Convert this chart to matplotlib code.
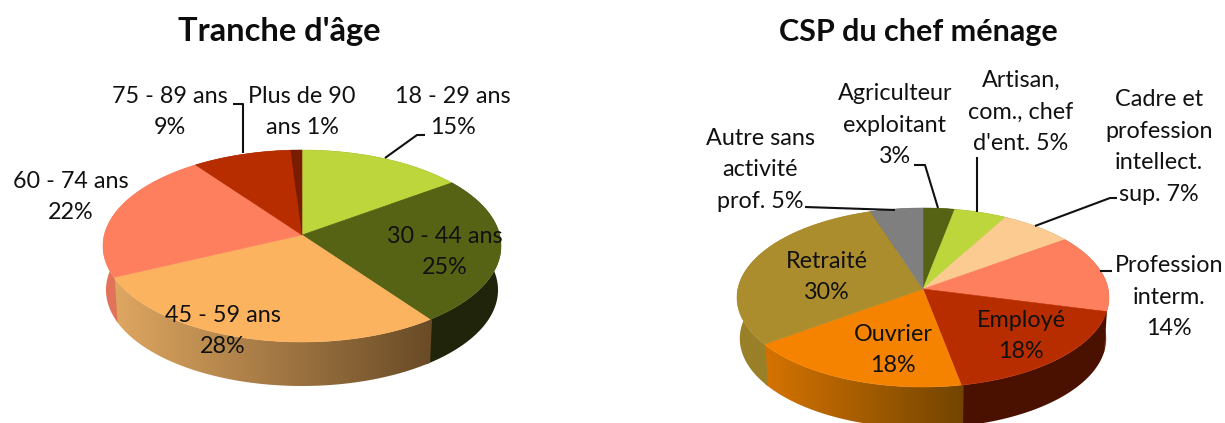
import numpy as np
import matplotlib
matplotlib.use("Agg")
import matplotlib.pyplot as plt
from matplotlib.patches import Polygon
from matplotlib.colors import to_rgb

W, H = 1225, 423

# ---- data ----
age_labels = ["18 - 29 ans\n15%", "30 - 44 ans\n25%", "45 - 59 ans\n28%",
              "60 - 74 ans\n22%", "75 - 89 ans\n9%", "Plus de 90\nans 1%"]
age_values = [15, 25, 28, 22, 9, 1]

csp_labels = ["Agriculteur\nexploitant\n3%", "Artisan,\ncom., chef\nd'ent. 5%",
              "Cadre et\nprofession\nintellect.\nsup. 7%", "Profession\ninterm.\n14%",
              "Employé\n18%", "Ouvrier\n18%", "Retraité\n30%",
              "Autre sans\nactivité\nprof. 5%"]
csp_values = [3, 5, 7, 14, 18, 18, 30, 5]

# ---- style ----
age_colors = ["#bcd63c", "#566214", "#fbb35f", "#fe7f5e", "#b82d00", "#7a1c00"]
csp_colors = ["#566214", "#bcd63c", "#fbcb92", "#fe7f5e", "#b82d00", "#f58300", "#ac8d2e", "#7f7f7f"]
# side wall colours (left end, right end) for each slice
age_sides = [("#5f6c1e", "#5f6c1e"), ("#20240a", "#20240a"), ("#e0a862", "#684a26"),
             ("#e2735a", "#e2735a"), ("#6a1a00", "#6a1a00"), ("#3a1000", "#3a1000")]
csp_sides = [("#2a3008", "#2a3008"), ("#5f6c1e", "#5f6c1e"), ("#7a6040", "#7a6040"),
             ("#7a3a2a", "#7a3a2a"), ("#4a1000", "#4a1000"), ("#d87400", "#704400"),
             ("#9a8028", "#9a8028"), ("#404040", "#404040")]

FONT = "Lato"


def project(theta, cx, cy, rx, up, down):
    """Map clockwise-from-top angle to the tilted disc in pixel space."""
    k = (down - up) / (down + up)
    a = up * (1 + k)
    x, y = np.sin(theta), np.cos(theta)
    d = 1 + k * y
    return cx + rx * x / d, cy - a * y / d


def pie3d(ax, values, colors, sides, cx, cy, rx, up, down, depth):
    fractions = np.asarray(values, float) / np.sum(values)
    edges = np.concatenate([[0], np.cumsum(fractions)]) * 2 * np.pi
    rx = rx * np.sqrt(1 - ((down - up) / (down + up)) ** 2)
    # side walls: a horizontal gradient clipped to the wall outline
    for a0, a1, (cl, cr) in zip(edges[:-1], edges[1:], sides):
        th = np.linspace(a0 - 0.012, a1 + 0.012, 120)
        xs, ys = project(th, cx, cy, rx, up, down)
        xb = cx + (xs - cx) * 0.985
        outline = np.c_[np.r_[xs, xb[::-1]], np.r_[ys, ys[::-1] + depth]]
        patch = Polygon(outline, closed=True, facecolor="none", edgecolor="none")
        ax.add_patch(patch)
        t = np.linspace(0, 1, 256)[None, :, None]
        grad = np.array(to_rgb(cl))[None, None, :] * (1 - t) + np.array(to_rgb(cr))[None, None, :] * t
        im = ax.imshow(grad, extent=(xs.min() - 3, xs.max() + 3, ys.max() + depth + 3, ys.min() - 3),
                       aspect="auto", zorder=2, interpolation="bilinear")
        im.set_clip_path(patch)
    # top
    for a0, a1, c in zip(edges[:-1], edges[1:], colors):
        th = np.linspace(a0, a1, 120)
        xs, ys = project(th, cx, cy, rx, up, down)
        ax.fill(np.r_[cx, xs], np.r_[cy, ys], facecolor=c, edgecolor=c, linewidth=0.4, zorder=3)


fig = plt.figure(figsize=(W / 100, H / 100), dpi=100)
ax = fig.add_axes([0, 0, 1, 1])

pie3d(ax, age_values, age_colors, age_sides, 302, 235, 199, 85, 107, 44)
pie3d(ax, csp_values, csp_colors, csp_sides, 923, 289, 186, 81, 98, 41)

ax.set_xlim(0, W)
ax.set_ylim(H, 0)
ax.axis("off")

# titles
ax.text(279, 32, "Tranche d'âge", ha="center", va="center", fontsize=23.5, fontweight="bold",
        family=FONT, color="#0d0d0d", zorder=6)
ax.text(918, 32, "CSP du chef ménage", ha="center", va="center", fontsize=22, fontweight="bold",
        family=FONT, color="#0d0d0d", zorder=6)

# label centres
age_pos = [(453, 112), (445, 252), (223, 331), (71, 197), (170, 112), (302, 112)]
csp_pos = [(895, 125), (1021, 112), (1159, 147), (1169, 297), (1021, 336), (893, 350), (827, 277), (760, 170)]
for labels, pos in ((age_labels, age_pos), (csp_labels, csp_pos)):
    for s, (x, y) in zip(labels, pos):
        ax.text(x, y, s, ha="center", va="center", fontsize=16.8, family=FONT, color="#111111",
                linespacing=1.61, zorder=6, multialignment="center")

# leader lines
leaders = [
    [(385, 158), (417, 135), (425, 135)],
    [(243, 153), (243, 104), (233, 104)],
    [(805, 207), (895, 210)],
    [(914, 165), (925, 165), (938, 208)],
    [(977, 157), (977, 212)],
    [(1035, 226), (1110, 198), (1117, 198)],
    [(1100, 271), (1112, 271)],
]
for pts in leaders:
    xs, ys = zip(*pts)
    ax.plot(xs, ys, color="#111111", lw=1.5, zorder=5, solid_capstyle="butt")

fig.savefig("out.png", dpi=100, facecolor="white")
